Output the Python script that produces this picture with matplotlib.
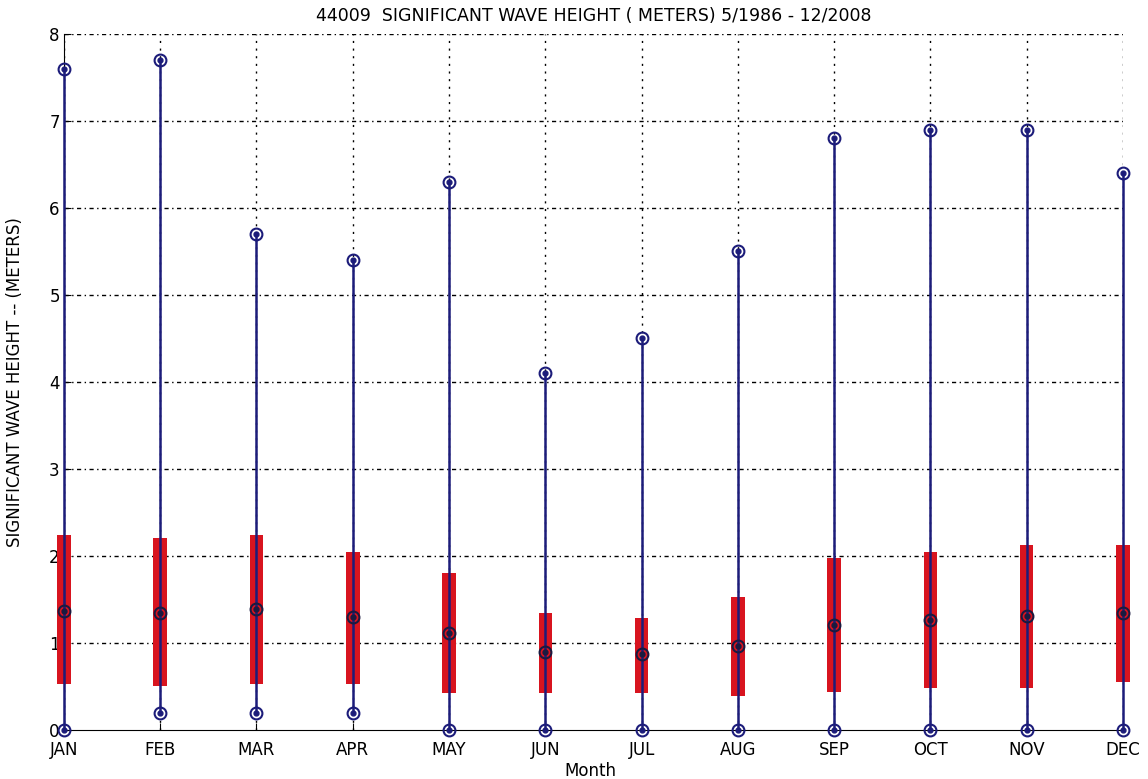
import matplotlib.pyplot as plt
import numpy as np

plt.rcParams['font.family'] = ['DejaVu Sans']

#-----------datos por mes-------------#
meses = ["JAN", "FEB", "MAR", "APR", "MAY", "JUN", "JUL", "AUG", "SEP", "OCT", "NOV", "DEC"]
maximo = [7.6, 7.7, 5.7, 5.4, 6.3, 4.1, 4.5, 5.5, 6.8, 6.9, 6.9, 6.4]
minimo = [0.0, 0.2, 0.2, 0.2, 0.0, 0.0, 0.0, 0.0, 0.0, 0.0, 0.0, 0.0]
p25 = [0.53, 0.51, 0.53, 0.53, 0.42, 0.42, 0.42, 0.39, 0.44, 0.48, 0.48, 0.55]
p75 = [2.24, 2.21, 2.24, 2.05, 1.81, 1.35, 1.29, 1.53, 1.98, 2.05, 2.13, 2.13]
mediana = [1.37, 1.35, 1.39, 1.30, 1.11, 0.90, 0.87, 0.96, 1.21, 1.26, 1.31, 1.35]

x = np.arange(1, len(meses) + 1)
azul = "#1c1c7a"
rojo = "#d8141f"

fig = plt.figure(figsize=(11.48, 7.79), dpi=100)
ax = fig.add_axes([0.0557, 0.0629, 0.9225, 0.8935])

# grilla
for v in x:
    ax.plot([v, v], [0, 8], color="black", lw=1.0, ls=(0, (1.5, 4)), zorder=1)
for h in range(1, 9):
    ax.plot([1, 12], [h, h], color="black", lw=1.0, ls=(0, (3, 2.5, 1, 2.5)), zorder=1)

# cajas rojas
ax.bar(x, np.array(p75) - np.array(p25), bottom=p25, width=0.14, color=rojo, zorder=2, clip_on=False)
# bigotes
ax.vlines(x, minimo, maximo, color=azul, lw=1.8, zorder=3, clip_on=False)

# marcadores
for serie, borde in [(maximo, azul), (minimo, azul), (mediana, "#1a1a40")]:
    ax.plot(x, serie, ls="none", marker="o", ms=8.5, mfc="none", mec=borde, mew=1.5, zorder=4, clip_on=False)
    ax.plot(x, serie, ls="none", marker="o", ms=3.5, mfc=borde, mec=borde, zorder=5, clip_on=False)

ax.set_xlim(1, 12)
ax.set_ylim(0, 8)
ax.set_xticks(x)
ax.set_xticklabels(meses)
ax.set_yticks(range(0, 9))
ax.tick_params(direction="in", length=5, labelsize=12, pad=3)
ax.tick_params(axis="x", pad=8)
ax.spines["top"].set_visible(False)
ax.spines["right"].set_visible(False)

ax.set_title("44009  SIGNIFICANT WAVE HEIGHT ( METERS) 5/1986 - 12/2008", fontsize=12.5, pad=9)
ax.set_xlabel("Month", fontsize=12)
ax.set_ylabel("SIGNIFICANT WAVE HEIGHT -- (METERS)", fontsize=12)
ax.xaxis.set_label_coords(0.497, -0.046)
ax.yaxis.set_label_coords(-0.038, 0.5)

plt.savefig("out.png", dpi=100)
plt.close()
